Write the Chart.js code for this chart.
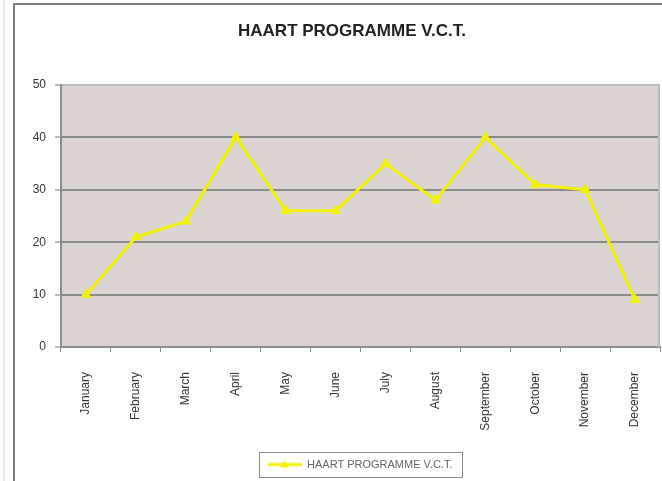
<!DOCTYPE html>
<html>
<head>
<meta charset="utf-8">
<script src="https://cdn.jsdelivr.net/npm/chart.js@4/dist/chart.umd.min.js"></script>
<style>
html,body{margin:0;padding:0;background:#fff;overflow:hidden;}
#wrap{position:relative;width:662px;height:481px;}
#c{position:absolute;left:0;top:0;}
.fl{position:absolute;}
</style>
</head>
<body>
<div id="wrap">
  <div class="fl" style="left:3px;top:0;width:2px;height:481px;background:#ede5e5"></div>
  <div class="fl" style="left:13px;top:3px;width:2px;height:478px;background:#7c7c7c"></div>
  <div class="fl" style="left:13px;top:3px;width:649px;height:2px;background:#7c7c7c"></div>
  <canvas id="c" width="662" height="481"></canvas>
</div>
<script>
// ---- data ----
const chartTitle = 'HAART PROGRAMME V.C.T.';
const seriesName = 'HAART PROGRAMME V.C.T.';
const months = ['January','February','March','April','May','June','July','August','September','October','November','December'];
const vctValues = [10, 21, 24, 40, 26, 26, 35, 28, 40, 31, 30, 9];
const yTickValues = [0, 10, 20, 30, 40, 50];

// ---- styles ----
const FONT = "'Liberation Sans', Arial, sans-serif";
const YELLOW = '#f2f200';

// legend symbol: line with a small triangle
const legendIcon = (function(){
  const cv = document.createElement('canvas');
  cv.width = 34; cv.height = 10;
  const g = cv.getContext('2d');
  g.strokeStyle = YELLOW; g.lineWidth = 3;
  g.beginPath(); g.moveTo(0,5); g.lineTo(34,5); g.stroke();
  g.fillStyle = YELLOW;
  g.beginPath(); g.moveTo(17,1); g.lineTo(21,8); g.lineTo(13,8); g.closePath(); g.fill();
  return cv;
})();

const decor = {
  id: 'decor',
  afterLayout(chart) {
    const t = chart.titleBlock;
    if (t) { const c = (t.left + t.right) / 2; t.left += 352 - c; t.right += 352 - c; }
    const l = chart.legend;
    if (l) { const c = (l.left + l.right) / 2; l.left += 360 - c; l.right += 360 - c; }
  },
  beforeDraw(chart) {
    const {ctx, chartArea: a} = chart;
    ctx.save();
    ctx.fillStyle = '#dad3d1';
    ctx.fillRect(a.left, a.top, a.right - a.left, a.bottom - a.top);
    ctx.restore();
  },
  afterDraw(chart) {
    const {ctx, chartArea: a} = chart;
    ctx.save();
    ctx.strokeStyle = '#b9b9b9';
    ctx.lineWidth = 2;
    ctx.beginPath(); ctx.moveTo(a.right - 1, a.top); ctx.lineTo(a.right - 1, a.bottom); ctx.stroke();
    const l = chart.legend;
    if (l && l.legendHitBoxes && l.legendHitBoxes.length) {
      const w = l.legendHitBoxes[0].width + 18;
      const cx = (l.left + l.right) / 2;
      const cy = l.top + l.options.labels.padding + 5.5;
      ctx.strokeStyle = '#8a8a8a';
      ctx.lineWidth = 1;
      ctx.strokeRect(Math.round(cx - w / 2) + 0.5, Math.round(cy - 12.5) + 0.5, Math.round(w), 25);
    }
    ctx.restore();
  }
};

new Chart(document.getElementById('c'), {
  type: 'line',
  data: {
    labels: months,
    datasets: [{
      label: seriesName,
      data: vctValues,
      borderColor: YELLOW,
      backgroundColor: YELLOW,
      borderWidth: 3,
      tension: 0,
      pointStyle: 'triangle',
      pointRadius: 5.5,
      pointBackgroundColor: YELLOW,
      pointBorderColor: YELLOW,
      pointBorderWidth: 1
    }]
  },
  options: {
    responsive: false,
    animation: false,
    layout: { autoPadding: false, padding: { left: 20, right: 2, top: 0, bottom: 1 } },
    plugins: {
      title: {
        display: true,
        text: chartTitle,
        color: '#222',
        font: { family: FONT, size: 17, weight: 'bold' },
        padding: { top: 21, bottom: 43.6 }
      },
      legend: {
        display: true,
        position: 'bottom',
        labels: {
          usePointStyle: true,
          pointStyle: legendIcon,
          pointStyleWidth: 34,
          boxHeight: 11,
          padding: 10,
          color: '#666',
          font: { family: FONT, size: 11 },
          generateLabels(chart) {
            return [{ text: seriesName, pointStyle: legendIcon, fillStyle: YELLOW, strokeStyle: YELLOW, lineWidth: 0, datasetIndex: 0, fontColor: '#666' }];
          }
        }
      },
      tooltip: { enabled: false }
    },
    scales: {
      x: {
        type: 'category',
        offset: true,
        grid: { offset: true, drawOnChartArea: false, drawTicks: true, tickLength: 5, color: '#8c8c8c', tickColor: '#8c8c8c', tickWidth: 1 },
        border: { display: true, color: '#8c8c8c', width: 2 },
        ticks: { autoSkip: false, minRotation: 90, maxRotation: 90, padding: 20, color: '#333', font: { family: FONT, size: 12 } },
        afterFit(s) { s.height = 102; s.paddingRight = 0; s.paddingLeft = 0; }
      },
      y: {
        min: 0,
        max: 50,
        afterBuildTicks(s) { s.ticks = yTickValues.map(v => ({ value: v })); },
        grid: {
          color: (c) => (c.tick && c.tick.value === 50) ? '#bdbdbd' : '#8a8a8a',
          lineWidth: 2,
          drawTicks: true,
          tickLength: 6,
          tickColor: '#777',
          tickWidth: 1
        },
        border: { display: true, color: '#8c8c8c', width: 2 },
        ticks: { padding: 9, color: '#333', font: { family: FONT, size: 12 } },
        afterFit(s) { s.width = 41; }
      }
    }
  },
  plugins: [decor]
});
</script>
</body>
</html>
